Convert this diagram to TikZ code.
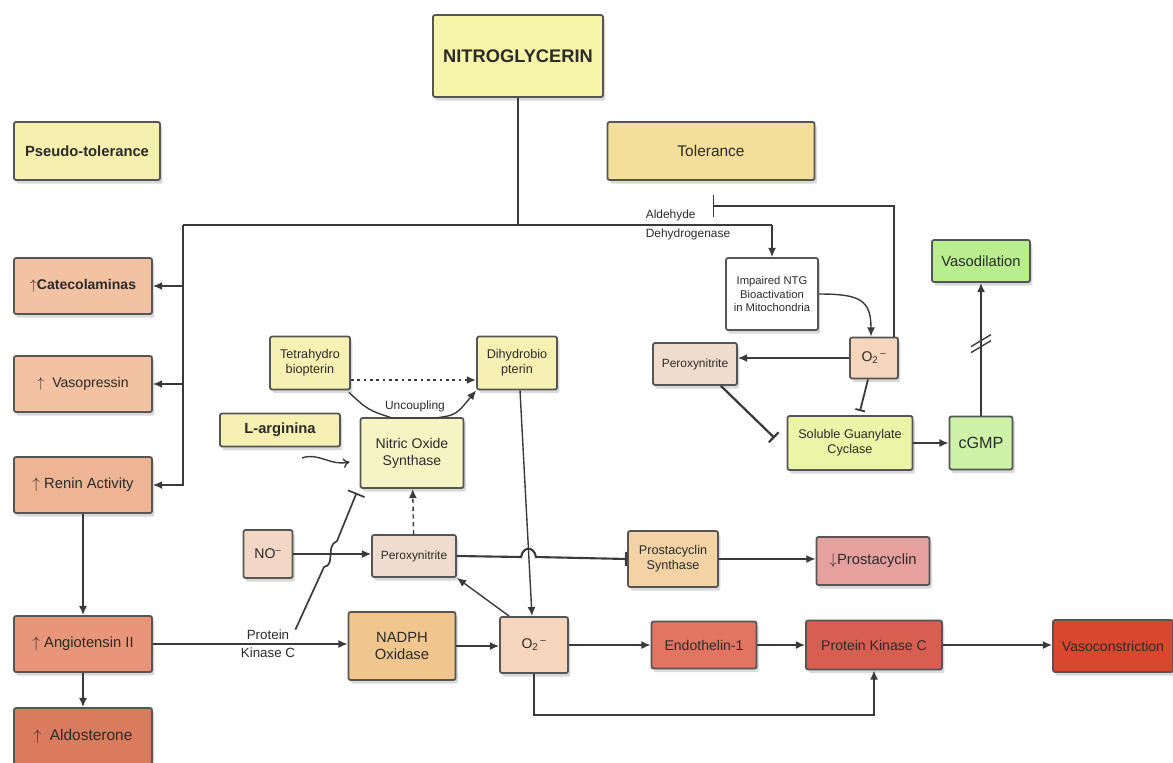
\documentclass[tikz,border=0pt]{standalone}
\usepackage{fontspec}
\setmainfont{Liberation Sans}
\usetikzlibrary{positioning,arrows.meta,calc,shadows}
\definecolor{lnc}{HTML}{3A3A3A}
\definecolor{boxline}{HTML}{555555}
\definecolor{txt}{HTML}{2B2B2B}
\definecolor{cNitro}{HTML}{F7F5A8}
\definecolor{cPseudo}{HTML}{F6F0AE}
\definecolor{cTol}{HTML}{F3DE9A}
\definecolor{cPeach}{HTML}{F2C2A2}
\definecolor{cRenin}{HTML}{EDB594}
\definecolor{cAng}{HTML}{E8957A}
\definecolor{cAldo}{HTML}{D97C5E}
\definecolor{cOtwo}{HTML}{F5D6BD}
\definecolor{cPerox}{HTML}{EFDCCF}
\definecolor{cSgc}{HTML}{EAF5A8}
\definecolor{cCgmp}{HTML}{CDF2A8}
\definecolor{cVasod}{HTML}{B9EE8E}
\definecolor{cPter}{HTML}{F6F1B2}
\definecolor{cNos}{HTML}{F7F4C4}
\definecolor{cNo}{HTML}{F2D8C4}
\definecolor{cPgis}{HTML}{F3D3A6}
\definecolor{cPgi}{HTML}{E6A19C}
\definecolor{cNadph}{HTML}{F1C68E}
\definecolor{cEt}{HTML}{E27462}
\definecolor{cPkc}{HTML}{D95E52}
\definecolor{cVcon}{HTML}{D9472F}

\begin{document}
\begin{tikzpicture}[
		x=0.025cm,y=-0.025cm,
		font=\fontsize{10}{11.5}\selectfont,
		box/.style={draw=boxline,line width=1.3pt,rounded corners=1.5pt,align=center,inner sep=2pt,text=txt,
			drop shadow={shadow xshift=0.06cm,shadow yshift=-0.09cm,opacity=0.3}},
		lbl/.style={inner sep=0pt,text=txt,align=center},
		ln/.style={draw=lnc,line width=1pt},
		arr/.style={ln,-{Latex[length=2.3mm,width=2mm]}},
		opn/.style={ln,-{To[length=1.6mm,width=2.4mm]}},
		inh/.style={ln,-{Bar[width=4.5mm]}},
		dsh/.style={arr,dashed,dash pattern=on 3pt off 2.5pt}
		]
		\useasboundingbox (0,0) rectangle (1173,763);

		\node[box,fill=cNitro,minimum width=4.25cm,minimum height=2.05cm,font=\bfseries\fontsize{13}{15}\selectfont] (nitro) at (518,56) {NITROGLYCERIN};
		\node[box,fill=cPseudo,minimum width=3.65cm,minimum height=1.45cm,font=\bfseries\fontsize{10.5}{12}\selectfont] (pseudo) at (87,151) {Pseudo-tolerance};
		\node[box,fill=cTol,minimum width=5.175cm,minimum height=1.45cm,font=\fontsize{11}{12}\selectfont] (tol) at (711,151) {Tolerance};

		\node[box,fill=cPeach,minimum width=3.45cm,minimum height=1.4cm] (cate) at (83,286) {$\uparrow$\textbf{Catecolaminas}};
		\node[box,fill=cPeach,minimum width=3.45cm,minimum height=1.4cm] (vaso) at (83,384) {$\uparrow$\ \ Vasopressin};
		\node[box,fill=cRenin,minimum width=3.45cm,minimum height=1.4cm,font=\fontsize{10.5}{12}\selectfont] (renin) at (83,485) {$\uparrow$ Renin Activity};
		\node[box,fill=cAng,minimum width=3.45cm,minimum height=1.4cm,font=\fontsize{10.5}{12}\selectfont] (ang) at (83,644) {$\uparrow$ Angiotensin II};
		\node[box,fill=cAldo,minimum width=3.45cm,minimum height=1.4cm,font=\fontsize{11}{12}\selectfont] (aldo) at (83,736) {$\uparrow$\ \ Aldosterone};

		\node[box,fill=white,minimum width=2.3cm,minimum height=1.8cm,font=\fontsize{8}{9.5}\selectfont] (impaired) at (772,294) {Impaired NTG\\Bioactivation\\in Mitochondria};
		\node[box,fill=cOtwo,minimum width=1.2cm,minimum height=1.025cm] (o2a) at (874,358) {O\textsubscript{2}\textsuperscript{\,--}};
		\node[box,fill=cPerox,minimum width=2.1cm,minimum height=1.05cm,font=\fontsize{8.5}{10}\selectfont] (perA) at (695,364) {Peroxynitrite};
		\node[box,fill=cSgc,minimum width=3.125cm,minimum height=1.35cm,font=\fontsize{9}{10.5}\selectfont] (sgc) at (850,443) {Soluble Guanylate\\Cyclase};
		\node[box,fill=cCgmp,minimum width=1.575cm,minimum height=1.325cm,font=\fontsize{11.5}{13}\selectfont] (cgmp) at (981,443) {cGMP};
		\node[box,fill=cVasod,minimum width=2.45cm,minimum height=1.05cm,font=\fontsize{10.5}{12}\selectfont] (vasod) at (981,261) {Vasodilation};

		\node[box,fill=cPter,minimum width=2cm,minimum height=1.325cm,font=\fontsize{9}{10.5}\selectfont] (tetra) at (310,363) {Tetrahydro\\biopterin};
		\node[box,fill=cPter,minimum width=2cm,minimum height=1.325cm,font=\fontsize{9}{10.5}\selectfont] (dihydro) at (517,363) {Dihydrobio\\pterin};
		\node[box,fill=cPter,minimum width=3cm,minimum height=0.825cm,font=\bfseries\fontsize{10.5}{12}\selectfont] (larg) at (280,430) {L-arginina};
		\node[box,fill=cNos,minimum width=2.575cm,minimum height=1.75cm,font=\fontsize{10}{12}\selectfont] (nos) at (412,453) {Nitric Oxide\\Synthase};
		\node[box,fill=cNo,minimum width=1.225cm,minimum height=1.2cm] (no) at (268,554) {NO\textsuperscript{--}};
		\node[box,fill=cPerox,minimum width=2.1cm,minimum height=1.05cm,font=\fontsize{8.5}{10}\selectfont] (perB) at (414,556) {Peroxynitrite};
		\node[box,fill=cPgis,minimum width=2.25cm,minimum height=1.4cm,font=\fontsize{9}{10.5}\selectfont] (pgis) at (673,559) {Prostacyclin\\Synthase};
		\node[box,fill=cPgi,minimum width=2.825cm,minimum height=1.2cm,font=\fontsize{10.5}{12}\selectfont] (pgi) at (873,561) {$\downarrow$Prostacyclin};

		\node[box,fill=cNadph,minimum width=2.675cm,minimum height=1.7cm,font=\fontsize{10.5}{12.5}\selectfont] (nadph) at (402,646) {NADPH\\Oxidase};
		\node[box,fill=cOtwo,minimum width=1.7cm,minimum height=1.4cm] (o2b) at (534,645) {O\textsubscript{2}\textsuperscript{\,--}};
		\node[box,fill=cEt,minimum width=2.625cm,minimum height=1.175cm] (et1) at (704,645) {Endothelin-1};
		\node[box,fill=cPkc,minimum width=3.4cm,minimum height=1.225cm] (pkc) at (874,645) {Protein Kinase C};
		\node[box,fill=cVcon,minimum width=3cm,minimum height=1.3cm] (vcon) at (1113,646) {Vasoconstriction};

		\node[lbl,align=left,font=\fontsize{8.5}{13}\selectfont] (aldh) at (688,225) {Aldehyde\\Dehydrogenase};
		\node[lbl,font=\fontsize{8.5}{10}\selectfont] (unc) at (415,406) {Uncoupling};
		\node[lbl,font=\fontsize{9.5}{13}\selectfont] (pklbl) at (268,644) {Protein\\Kinase C};

		\coordinate (jl) at (183,225);
		\coordinate (jr) at (772,225);
		\coordinate (aldbar) at (713,206);
		\coordinate (lin) at (302,458);

		\draw[ln] (nitro) -- (nitro |- jl);
		\draw[ln] (jl) -- (jr);
		\draw[arr] (jr) -- (impaired);
		\draw[arr] (jl) |- (cate);
		\draw[arr] (jl) |- (vaso);
		\draw[arr] (jl) |- (renin);
		\draw[ln,-{Bar[width=5.5mm]}] ([xshift=-0.125cm]o2a.north east) |- (aldbar);
		\draw[arr] (impaired.east) .. controls (860,294) and (871,300) .. ($(o2a.north)+(-3,0)$);
		\draw[arr] (o2a.west) -- (o2a.west -| perA.east);
		\draw[ln,line width=1.6pt,-{Bar[width=3.5mm]}] ($(perA.south east)+(-17,0)$) -- ($(sgc.west)+(-12,-5)$);
		\draw[ln,line width=1.3pt,-{Bar[width=2.5mm]}] ($(o2a.south)+(-6,0)$) -- ($(sgc.north)+(10,-4)$);
		\draw[arr] (sgc) -- (cgmp);
		\draw[arr] (cgmp) -- (vasod) coordinate[pos=0.55] (brk);
		\draw[ln] ($(brk)+(-10,4)$) -- ($(brk)+(10,-8)$);
		\draw[ln] ($(brk)+(-10,10)$) -- ($(brk)+(10,-2)$);

		\draw[dsh,line width=1.3pt,dash pattern=on 2pt off 2.5pt] ($(tetra.east)+(0,17)$) -- ($(dihydro.west)+(0,17)$);
		\draw[arr] ($(tetra.south east)+(-2,2)$) .. controls (368,410) .. (392,418) -- (436,418) .. controls (456,415) .. (dihydro.south west);
		\draw[opn] (lin) .. controls (318,452) and (330,466) .. ($(nos.west)+(-10,9)$);
		\draw[arr] ($(dihydro.south)+(3,0)$) -- ($(o2b.north)+(-2,0)$);
		\draw[arr] (no.east) -- (no.east -| perB.west);
		\draw[inh,line width=1.2pt] (pklbl.north east) -- (324,567) .. controls (336,565) and (325,546) .. (337,541) -- ($(nos.south west)+(-3,4)$);
		\draw[dsh] (perB) -- (nos);
		\draw[ln,line width=1.5pt,-{Bar[width=3.5mm]}] (perB.east) -- (521,557) .. controls (523,546) and (534,546) .. (536,557) -- (pgis.west);
		\draw[arr] ($(o2b.north west)+(10,0)$) -- (perB.south east);
		\draw[arr] (pgis.east) -- (pgis.east -| pgi.west);

		\draw[arr] (renin) -- (ang);
		\draw[arr] (ang) -- (aldo);
		\draw[arr] (ang.east) -- (ang.east -| nadph.west);
		\draw[arr] (nadph.east) -- (nadph.east -| o2b.west);
		\draw[arr] (o2b) -- (et1);
		\draw[arr] (et1) -- (pkc);
		\draw[arr] (pkc.east) -- (pkc.east -| vcon.west);
		\draw[arr] (o2b.south) -- ++(0,41) -| (pkc.south);
	\end{tikzpicture}
\end{document}
